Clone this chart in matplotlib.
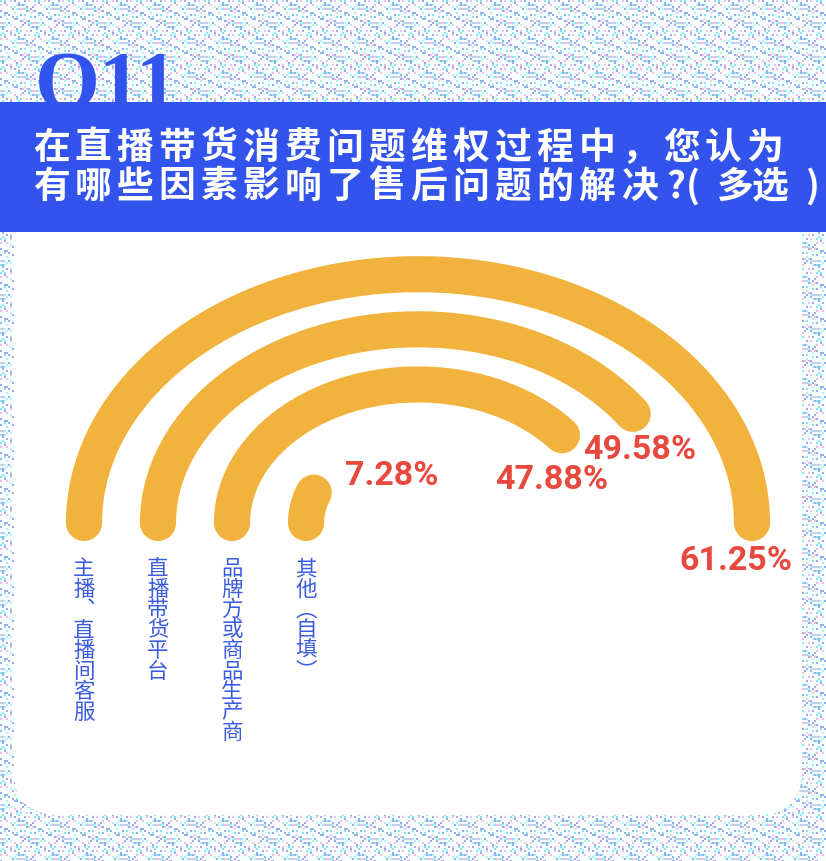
import numpy as np
import matplotlib
matplotlib.use("Agg")
import matplotlib.pyplot as plt
from matplotlib.patches import FancyBboxPatch, Rectangle

# data
categories = ["主播︑直播间客服", "直播带货平台", "品牌方或商品生产商", "其他︵自填︶"]
values = [61.25, 49.58, 47.88, 7.28]
title_line1 = "在直播带货消费问题维权过程中，您认为"
title_line2 = "有哪些因素影响了售后问题的解决"
title_tail = ["?", "(", "多", "选", ")"]
badge = "Q11"

# style
W, H = 826, 861
BLUE = "#3254ec"
ARC = "#f2b33e"
RED = "#e8493e"
LABEL_BLUE = "#3b5ce0"
CJK = ["Noto Sans CJK SC", "DejaVu Sans"]
cx, cy = 418, 523          # arc centre, pixels from top-left
squash = 0.745             # the poster is squashed vertically
radii = [334, 260, 186, 112]
pct_pos = [(736, 561), (640, 450), (552, 480), (392, 476)]

fig = plt.figure(figsize=(W / 100, H / 100), dpi=100)

# background layer in pixel coordinates
bg = fig.add_axes([0, 0, 1, 1])
bg.set_xlim(0, W)
bg.set_ylim(H, 0)
bg.axis("off")

# dotted paper texture
yy, xx = np.mgrid[0:431, 0:413]
k = (xx * xx * 7 + yy * yy * 13 + xx * yy * 5 + xx * 3 + yy) % 17
tex = np.ones((431, 413, 3)) * [0.97, 0.99, 0.99]
tex[k == 0] = [0.55, 0.90, 0.95]
tex[k == 3] = [0.97, 0.74, 0.90]
tex[k == 7] = [0.60, 0.68, 0.92]
tex[k == 11] = [0.70, 0.95, 0.96]
tex = np.repeat(np.repeat(tex, 2, axis=0), 2, axis=1)[:H, :W]
bg.imshow(tex, extent=(0, W, H, 0), interpolation="nearest", aspect="auto", zorder=0)

# white card
bg.add_patch(FancyBboxPatch((14, 180), 788, 635, boxstyle="round,pad=0,rounding_size=44",
                            facecolor="white", edgecolor="none", zorder=1))

# Q11 badge, partly under the banner
bg.text(35, 108, badge, family="Liberation Serif", fontweight="bold", fontsize=60,
        color=BLUE, ha="left", va="baseline", zorder=2)
bg.add_patch(Rectangle((0, 102), W, 130, facecolor=BLUE, edgecolor="none", zorder=3))

# title, drawn per character for the wide spacing
tfont = dict(family=CJK, fontweight="heavy", fontsize=26.5, color="white",
             ha="center", va="center", zorder=4)
for i, ch in enumerate(title_line1):
    bg.text(51 + 42 * i, 148, ch, **tfont)
for i, ch in enumerate(title_line2):
    bg.text(51 + 42 * i, 187, ch, **tfont)
for x, ch in zip([676, 693, 734, 770, 812], title_tail):
    bg.text(x, 187, ch, **tfont)

# radial bars on a polar axes, 1 r unit = 1 pixel across
R = 400
ax = fig.add_axes([(cx - R) / W, (H - cy - R * squash) / H, 2 * R / W, 2 * R * squash / H],
                  projection="polar")
ax.set_aspect("auto")
ax.set_theta_zero_location("W")
ax.set_theta_direction(-1)
ax.set_rlim(0, R)
ax.axis("off")
ax.patch.set_alpha(0)

vmax = max(values)
for v, r in zip(values, radii):
    theta = np.linspace(0, v / vmax * np.pi, 300)
    ax.plot(theta, np.full_like(theta, r), color=ARC, lw=26, solid_capstyle="round")

# percentage labels
for v, (x, y) in zip(values, pct_pos):
    bg.text(x, y, f"{v:.2f}%", family="Roboto", fontweight="bold", fontsize=24.5,
            color=RED, ha="center", va="center", zorder=5)

# vertical category labels under the bar starts
for cat, r in zip(categories, radii):
    x = cx - r
    for j, ch in enumerate(cat):
        bg.text(x, 569 + 20.5 * j, ch, family=CJK, fontsize=15.5, color=LABEL_BLUE,
                ha="center", va="center", zorder=5)

fig.savefig("out.png", dpi=100)
